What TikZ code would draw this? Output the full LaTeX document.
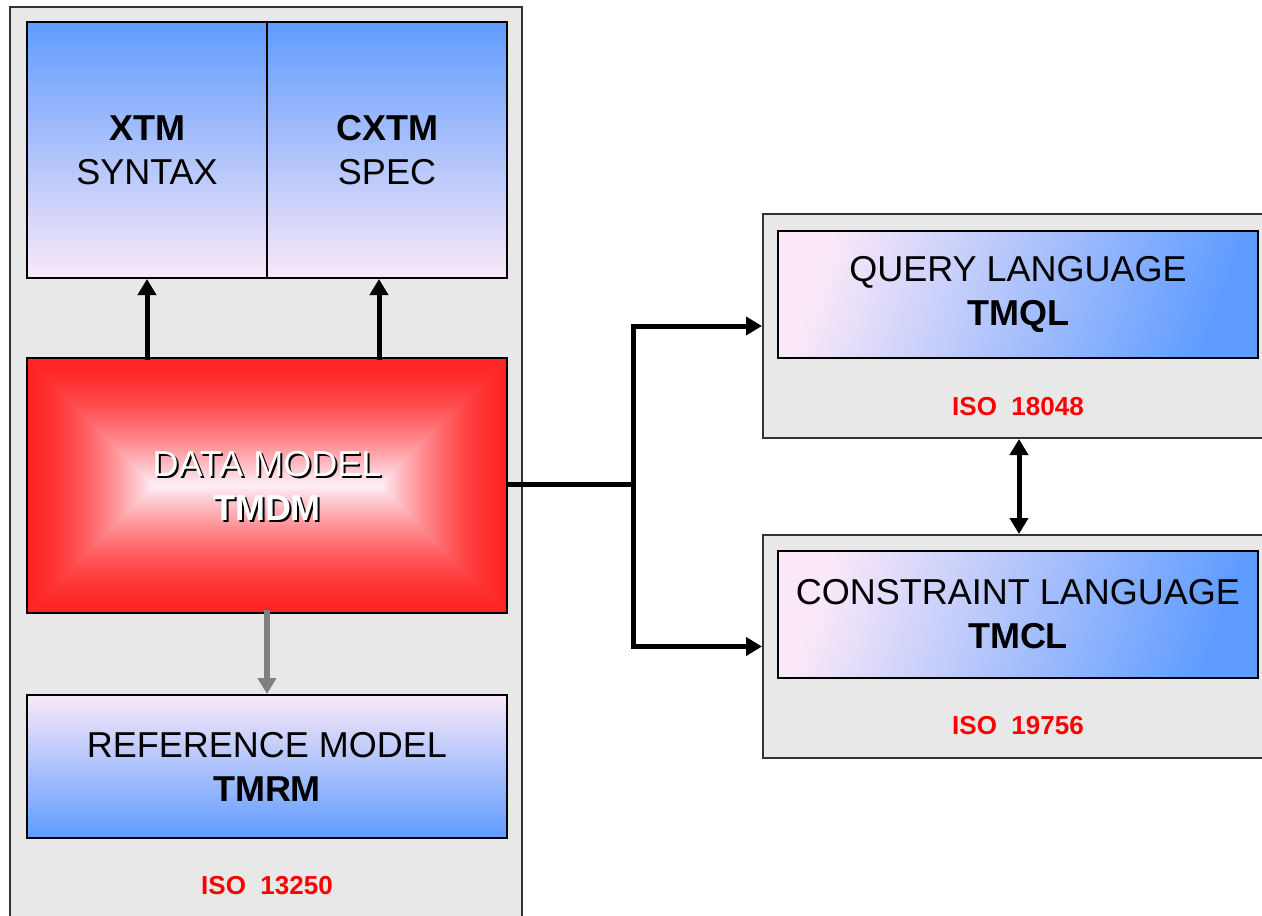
\documentclass[tikz,border=0pt]{standalone}
\usepackage{fontspec}
\setmainfont{Liberation Sans}
\usetikzlibrary{arrows.meta, positioning}

\definecolor{tmblue}{HTML}{5F9CFF}
\definecolor{tmpink}{HTML}{FAE8F8}
\definecolor{tmred}{HTML}{FF2424}
\definecolor{tmcore}{HTML}{FDEAF2}
\definecolor{tmgray}{HTML}{E8E8E8}

\begin{document}
\begin{tikzpicture}[x=1pt, y=-1pt,
  box/.style={draw=black, line width=2pt, minimum width=480pt, inner sep=0pt,
    align=center, font=\fontsize{36}{44}\selectfont},
  langbox/.style={box, minimum height=127pt, left color=tmpink, right color=tmblue, shading angle=70},
  panel/.style={draw=black!80, line width=2pt, fill=tmgray, inner sep=0pt},
  iso/.style={text=red, font=\fontsize{26}{30}\selectfont\bfseries},
  link/.style={line width=5pt, line cap=rect, -{Triangle[length=16pt,width=18pt]}}]

  \useasboundingbox (0,0) rectangle (1262,916);
  \clip (0,0) rectangle (1262,916);

  % Gray panels
  \node[panel, minimum width=512pt, minimum height=925pt] (lpanel) at (266,469.5) {};
  \node[panel, minimum width=512pt, minimum height=224pt] (qlpanel) at (1019,326) {};
  \node[panel, minimum width=512pt, minimum height=223pt] (clpanel) at (1019,646.5) {};

  % Syntax boxes
  \node[box, minimum width=240pt, minimum height=256pt, top color=tmblue, bottom color=tmpink]
    (xtm) at (147,150) {\textbf{XTM}\\SYNTAX};
  \node[box, minimum width=240pt, minimum height=256pt, top color=tmblue, bottom color=tmpink]
    (cxtm) at (387,150) {\textbf{CXTM}\\SPEC};

  % Data model box (nested fill)
  \path node[minimum width=480pt, minimum height=255pt, inner sep=0pt] (dmbox) at (267,485.5) {};
  \foreach \d in {0,2,...,124} {
    \pgfmathsetmacro\p{100*(\d/124)^1.6}
    \fill[tmcore!\p!tmred] ([shift={(\d,\d)}]dmbox.north west) rectangle ([shift={(-\d,-\d)}]dmbox.south east);
  }
  \draw[line width=2pt] (dmbox.north west) rectangle (dmbox.south east);
  \node[align=center, font=\fontsize{36}{44}\selectfont, text=black] (dmshadow) at ([shift={(2,2)}]dmbox.center) {DATA MODEL\\\textbf{TMDM}};
  \node[align=center, font=\fontsize{36}{44}\selectfont, text=white] (dm) at (dmbox.center) {DATA MODEL\\\textbf{TMDM}};

  % Reference model
  \node[box, minimum height=143pt, top color=tmpink, bottom color=tmblue]
    (rm) at (267,766.5) {REFERENCE MODEL\\\textbf{TMRM}};
  \node[iso] (iso13250) at (267,886) {ISO\ \ 13250};

  % Query and constraint languages
  \node[langbox] (ql) at (1018,294.5) {QUERY LANGUAGE\\\textbf{TMQL}};
  \node[iso] (iso18048) at (1018,407) {ISO\ \ 18048};
  \node[langbox] (cl) at (1018,614.5) {CONSTRAINT LANGUAGE\\\textbf{TMCL}};
  \node[iso] (iso19756) at (1018,726) {ISO\ \ 19756};

  % Arrows
  \coordinate (cxtmfoot) at ([xshift=-8pt]cxtm.south);
  \draw[link] (dmbox.north -| xtm.south) -- (xtm.south);
  \draw[link] (dmbox.north -| cxtmfoot) -- (cxtmfoot);
  \draw[link, gray, line width=6pt] (dmbox.south) -- (rm.north);

  \coordinate (fork) at ([xshift=126pt, yshift=1.5pt]dmbox.east);
  \draw[line width=5pt] ([yshift=1.5pt]dmbox.east) -- (fork);
  \draw[link] (fork) |- (qlpanel.west);
  \draw[link] (fork) |- (clpanel.west);
  \draw[line width=5pt, {Triangle[length=16pt,width=18pt]}-{Triangle[length=16pt,width=18pt]}]
    (qlpanel.south) -- (clpanel.north);

\end{tikzpicture}
\end{document}
